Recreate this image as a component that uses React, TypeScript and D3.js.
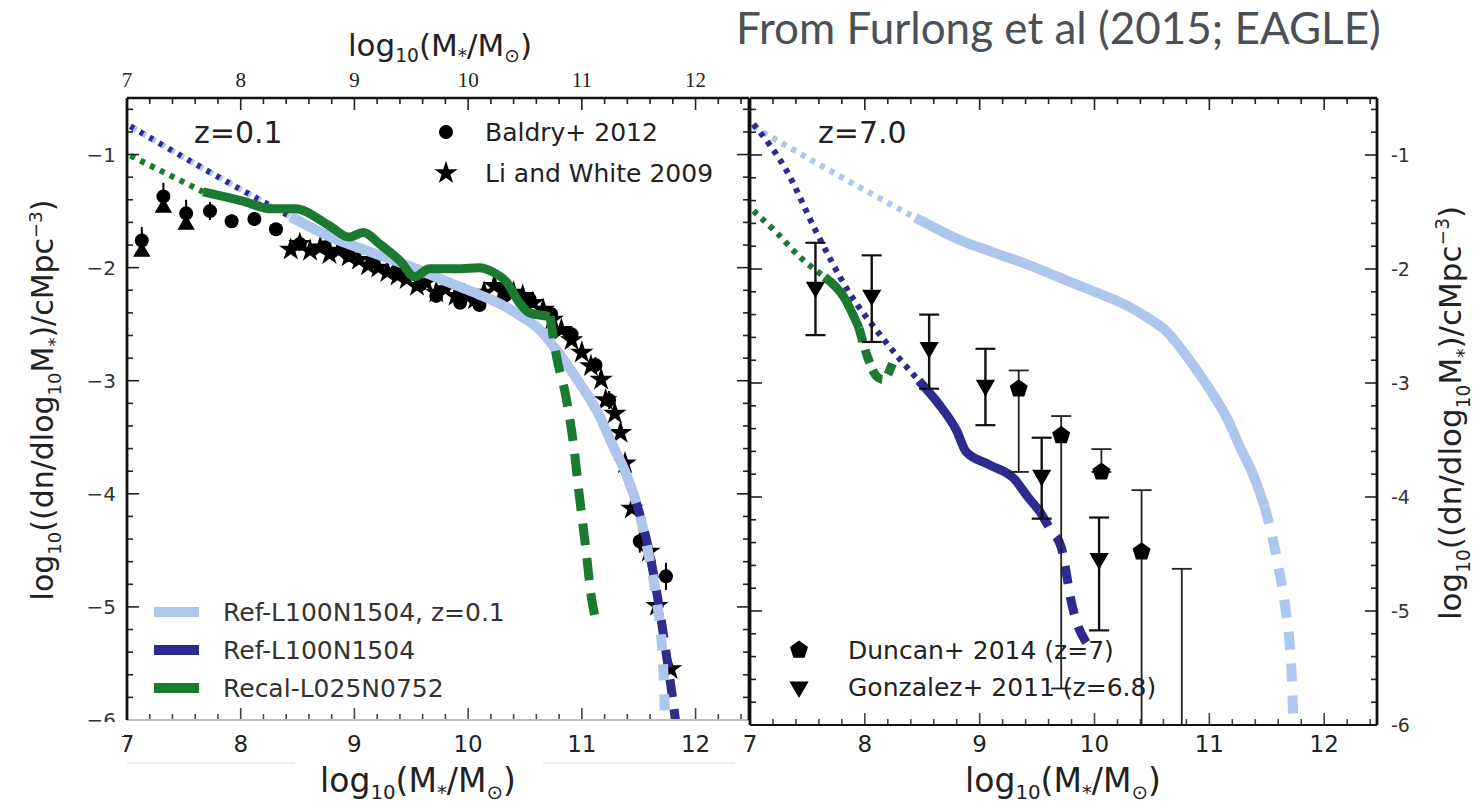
import React from 'react';
import * as d3 from 'd3';

type P = [number, number];

// ---------------- DATA ----------------
// Ref-L100N1504 at z=0.1 (light blue, repeated in both panels)
const refZ01Dotted: P[] = [[7.03, -0.75], [7.7, -1.14], [8.44, -1.55]];
const refZ01Solid: P[] = [
  [8.44, -1.55], [8.65, -1.66], [8.86, -1.76], [9.08, -1.84], [9.22, -1.89], [9.44, -1.97],
  [9.66, -2.06], [9.9, -2.16], [10.1, -2.24], [10.3, -2.33], [10.45, -2.42], [10.63, -2.55],
  [10.8, -2.76], [10.98, -3.02], [11.16, -3.32], [11.27, -3.57], [11.38, -3.8], [11.48, -4.08],
];
const refZ01Dashed: P[] = [[11.48, -4.08], [11.59, -4.55], [11.66, -4.96], [11.7, -5.3], [11.72, -5.64], [11.73, -5.95]];

// Ref-L100N1504 at z=0.1 (dark blue, left panel)
const refLeftDashed: P[] = [[11.48, -4.08], [11.6, -4.55], [11.68, -5.0], [11.74, -5.4], [11.79, -5.75], [11.83, -6.05]];

// Recal-L025N0752 at z=0.1 (green, left panel)
const recalLeftDotted: P[] = [[7.03, -1.01], [7.35, -1.17], [7.67, -1.33]];
const recalLeftSolid: P[] = [
  [7.67, -1.33], [8.01, -1.41], [8.27, -1.48], [8.48, -1.48], [8.78, -1.63], [8.95, -1.73],
  [9.08, -1.69], [9.22, -1.79], [9.4, -1.94], [9.53, -2.08], [9.66, -2.01], [9.9, -2.01],
  [10.1, -2.0], [10.22, -2.04], [10.34, -2.13], [10.45, -2.31], [10.54, -2.4], [10.72, -2.43],
];
const recalLeftDashed: P[] = [
  [10.72, -2.43], [10.78, -2.8], [10.86, -3.14], [10.93, -3.59], [10.97, -3.95], [11.04, -4.53],
  [11.08, -4.89], [11.12, -5.11],
];

// Baldry+ 2012 (circles)
const baldryX = [7.13, 7.32, 7.52, 7.73, 7.92, 8.12, 8.31, 8.52, 8.74, 8.95, 9.16, 9.37, 9.58, 9.72, 9.93, 10.1, 10.32, 10.54, 10.73, 10.91, 11.12, 11.24, 11.51, 11.74];
const baldryY = [-1.76, -1.37, -1.52, -1.5, -1.59, -1.57, -1.66, -1.79, -1.82, -1.89, -1.94, -2.03, -2.15, -2.25, -2.31, -2.33, -2.25, -2.28, -2.41, -2.59, -2.86, -3.17, -4.42, -4.73];
const baldryErr = [0.12, 0.12, 0.12, 0.08, 0.06, 0.06, 0.05, 0.05, 0.05, 0.05, 0.05, 0.05, 0.05, 0.05, 0.05, 0.05, 0.05, 0.05, 0.05, 0.06, 0.07, 0.08, 0.1, 0.12];
// lower-mass Baldry bins drawn with a triangle marker under the circle
const baldryTriX = [7.13, 7.32, 7.52];
const baldryTriY = [-1.86, -1.47, -1.62];

// Li and White 2009 (stars)
const liWhiteX = [8.44, 8.52, 8.61, 8.7, 8.78, 8.86, 8.95, 9.04, 9.12, 9.21, 9.29, 9.38, 9.46, 9.55, 9.63, 9.72, 9.8, 9.89, 9.97, 10.06, 10.14, 10.23, 10.31, 10.4, 10.48, 10.57, 10.66, 10.74, 10.82, 10.91, 11.0, 11.08, 11.17, 11.21, 11.29, 11.34, 11.38, 11.44, 11.59, 11.66, 11.78];
const liWhiteY = [-1.84, -1.79, -1.85, -1.82, -1.88, -1.85, -1.9, -1.93, -1.98, -2.0, -2.04, -2.07, -2.1, -2.16, -2.13, -2.22, -2.19, -2.25, -2.24, -2.28, -2.22, -2.16, -2.19, -2.22, -2.25, -2.31, -2.37, -2.46, -2.55, -2.64, -2.75, -2.87, -2.99, -3.17, -3.29, -3.46, -3.73, -4.13, -4.51, -4.99, -5.55];

// Ref-L100N1504 at z=7 (dark blue, right panel)
const refZ7Dotted: P[] = [[7.03, -0.73], [7.32, -1.14], [7.57, -1.66], [7.86, -2.2], [8.15, -2.6], [8.47, -2.98]];
const refZ7Solid: P[] = [[8.47, -2.98], [8.64, -3.18], [8.8, -3.42], [8.88, -3.6], [9.09, -3.72], [9.3, -3.84], [9.42, -4.0], [9.52, -4.12]];
const refZ7Dashed: P[] = [[9.52, -4.12], [9.62, -4.29], [9.71, -4.44], [9.75, -4.64], [9.79, -4.88], [9.83, -5.05], [9.93, -5.28]];

// Recal-L025N0752 at z=7 (green, right panel)
const recalZ7Dotted: P[] = [[7.03, -1.49], [7.24, -1.69], [7.44, -1.9], [7.65, -2.07]];
const recalZ7Solid: P[] = [[7.65, -2.07], [7.82, -2.25], [7.95, -2.52]];
const recalZ7Dashed: P[] = [[7.95, -2.52], [8.02, -2.76], [8.1, -2.94], [8.16, -2.97], [8.24, -2.83]];

// Duncan+ 2014 (z=7) pentagons
const duncanX = [9.34, 9.71, 10.06, 10.41, 10.76];
const duncanY = [-3.05, -3.46, -3.78, -4.48, -6.4];
const duncanHi = [-2.89, -3.29, -3.58, -3.94, -4.63];
const duncanLo = [-3.78, -5.68, -3.78, -6.3, -6.6];

// Gonzalez+ 2011 (z=6.8) down triangles
const gonzalezX = [7.57, 8.06, 8.56, 9.05, 9.54, 10.04];
const gonzalezY = [-2.16, -2.23, -2.69, -3.02, -3.81, -4.54];
const gonzalezHi = [-1.77, -1.88, -2.4, -2.7, -3.48, -4.18];
const gonzalezLo = [-2.58, -2.64, -3.05, -3.37, -4.19, -5.17];

const xTicks = [7, 8, 9, 10, 11, 12];
const yTicks = [-1, -2, -3, -4, -5, -6];

const legendLeft = ['Ref-L100N1504, z=0.1', 'Ref-L100N1504', 'Recal-L025N0752'];
const legendObsLeft = ['Baldry+  2012', 'Li and White 2009'];
const legendObsRight = ['Duncan+ 2014 (z=7)', 'Gonzalez+ 2011 (z=6.8)'];

// ---------------- STYLE ----------------
const LIGHT = '#afc6ec';
const DARK = '#2e2a8e';
const GREEN = '#1b7a2f';
const FONT = 'DejaVu Sans, sans-serif';

const xL = d3.scaleLinear().domain([7, 12.47]).range([127, 749]);
const yL = d3.scaleLinear().domain([-6, -0.5]).range([720, 98]);
const xR = d3.scaleLinear().domain([7, 12.46]).range([750, 1377]);
const yR = d3.scaleLinear().domain([-6, -0.5]).range([725, 98]);

const minorX = d3.range(7, 12.46, 0.2);
const minorY = d3.range(-6, -0.55, 0.2);

function pentagon(r: number): string {
  const pts: P[] = d3.range(5).map((i) => {
    const a = -Math.PI / 2 + (i * 2 * Math.PI) / 5;
    return [r * Math.cos(a), r * Math.sin(a)];
  });
  return (d3.line()(pts) as string) + 'Z';
}

const starPath = d3.symbol(d3.symbolStar, 170)() as string;
const triPath = d3.symbol(d3.symbolTriangle, 130)() as string;
const triPathBig = d3.symbol(d3.symbolTriangle, 160)() as string;

function Curve({ data, x, y, color, width, dash, offset }: any) {
  const gen = d3.line<P>().x((d) => x(d[0])).y((d) => y(d[1])).curve(d3.curveMonotoneX);
  return (
    <path d={gen(data) as string} fill="none" stroke={color} strokeWidth={width}
      strokeDasharray={dash} strokeDashoffset={offset || 0} strokeLinecap="butt" strokeLinejoin="round" />
  );
}

function MassLabel({ x, y, size }: { x: number; y: number; size: number }) {
  const s = size * 0.6;
  const d = size * 0.2;
  return (
    <text x={x} y={y} textAnchor="middle" fontSize={size} fontFamily={FONT} fill="#222">
      log<tspan dy={d} fontSize={s}>10</tspan>
      <tspan dy={-d}>(M</tspan>
      <tspan dy={d} fontSize={s}>*</tspan>
      <tspan dy={-d}>/M</tspan>
      <tspan dy={d} fontSize={s}>⊙</tspan>
      <tspan dy={-d}>)</tspan>
    </text>
  );
}

function YTitle({ x, y, size }: { x: number; y: number; size: number }) {
  const s = size * 0.6;
  const d = size * 0.28;
  return (
    <text transform={`translate(${x},${y}) rotate(-90)`} textAnchor="middle" fontSize={size} fontFamily={FONT} fill="#222">
      log<tspan dy={d} fontSize={s}>10</tspan>
      <tspan dy={-d}>((dn/dlog</tspan>
      <tspan dy={d} fontSize={s}>10</tspan>
      <tspan dy={-d}>M</tspan>
      <tspan dy={d} fontSize={s}>*</tspan>
      <tspan dy={-d}>)/cMpc</tspan>
      <tspan dy={-size * 0.38} fontSize={s}>−3</tspan>
      <tspan dy={size * 0.38}>)</tspan>
    </text>
  );
}

function Frame({ x, y, stroke, bottomStroke }: any) {
  const [x0, x1] = x.range();
  const [y1, y0] = y.range();
  return (
    <g>
      {minorX.map((v: number, i: number) => {
        const px = x(v);
        const major = Math.abs(v - Math.round(v)) < 1e-6;
        const len = major ? 12 : 6;
        return (
          <g key={'tx' + i}>
            <line x1={px} x2={px} y1={y0} y2={y0 + len} stroke="#222" strokeWidth={1.6} />
            <line x1={px} x2={px} y1={y1} y2={y1 - len} stroke="#444" strokeWidth={1.6} />
          </g>
        );
      })}
      {minorY.map((v: number, i: number) => {
        const py = y(v);
        const major = Math.abs(v - Math.round(v)) < 1e-6;
        const len = major ? 12 : 6;
        return (
          <g key={'ty' + i}>
            <line x1={x0} x2={x0 + len} y1={py} y2={py} stroke="#222" strokeWidth={1.6} />
            <line x1={x1} x2={x1 - len} y1={py} y2={py} stroke="#222" strokeWidth={1.6} />
          </g>
        );
      })}
      <line x1={x0} x2={x1} y1={y0} y2={y0} stroke={stroke} strokeWidth={2.6} />
      <line x1={x0} x2={x1} y1={y1} y2={y1} stroke={bottomStroke} strokeWidth={2.2} />
      <line x1={x0} x2={x0} y1={y0} y2={y1} stroke={stroke} strokeWidth={2.8} />
      <line x1={x1} x2={x1} y1={y0} y2={y1} stroke={stroke} strokeWidth={2.8} />
    </g>
  );
}

export default function App() {
  const pent = pentagon(9.5);
  return (
    <svg width={1480} height={810} style={{ display: 'block', position: 'absolute', left: 0, top: 0, background: '#fff' }}>
      <defs>
        <clipPath id="clipL"><rect x={127} y={98} width={622} height={622} /></clipPath>
        <clipPath id="clipR"><rect x={750} y={98} width={627} height={627} /></clipPath>
      </defs>
      <rect x={0} y={0} width={1480} height={810} fill="#fff" />

      {/* Title */}
      <text x={736} y={44} fontSize={44} fontFamily="Lato, 'Open Sans', sans-serif" fill="#4b5057">From Furlong et al (2015; EAGLE)</text>

      {/* ---------- LEFT PANEL ---------- */}
      <MassLabel x={440} y={56} size={31} />
      {xTicks.map((t) => (
        <text key={'tt' + t} x={xL(t)} y={87} textAnchor="middle" fontSize={21} fontFamily="'Liberation Serif', serif" fill="#222">{t}</text>
      ))}
      {xTicks.map((t) => (
        <text key={'bl' + t} x={xL(t)} y={752} textAnchor="middle" fontSize={23} fontFamily={FONT} fill="#222">{t}</text>
      ))}
      {yTicks.map((t) => (
        <text key={'yl' + t} x={116} y={yL(t) + 7} textAnchor="end" fontSize={20} fontFamily={FONT} fill="#333">{'−' + Math.abs(t)}</text>
      ))}
      <rect x={60} y={722} width={64} height={14} fill="#fff" />
      <line x1={127} x2={295} y1={763} y2={763} stroke="#ececec" strokeWidth={2} />
      <line x1={543} x2={735} y1={763} y2={763} stroke="#ececec" strokeWidth={2} />
      <MassLabel x={418} y={792} size={33} />
      <YTitle x={53} y={400} size={30} />

      <g clipPath="url(#clipL)">
        {/* observations */}
        {baldryX.map((v, i) => (
          <line key={'be' + i} x1={xL(v)} x2={xL(v)} y1={yL(baldryY[i] + baldryErr[i])} y2={yL(baldryY[i] - baldryErr[i])} stroke="#000" strokeWidth={2} />
        ))}
        {baldryTriX.map((v, i) => (
          <path key={'bt' + i} d={triPath} transform={`translate(${xL(v)},${yL(baldryTriY[i])})`} fill="#000" />
        ))}
        {baldryX.map((v, i) => (
          <circle key={'bc' + i} cx={xL(v)} cy={yL(baldryY[i])} r={7} fill="#000" />
        ))}
        {liWhiteX.map((v, i) => (
          <path key={'lw' + i} d={starPath} transform={`translate(${xL(v)},${yL(liWhiteY[i])})`} fill="#000" />
        ))}

        {/* Ref dark blue (under) */}
        <Curve data={refZ01Dotted} x={xL} y={yL} color={DARK} width={6} dash="5 6" />
        <Curve data={refZ01Solid} x={xL} y={yL} color={DARK} width={9} />
        <Curve data={refLeftDashed} x={xL} y={yL} color={DARK} width={9} dash="18 12" />
        {/* Ref z=0.1 light blue */}
        <Curve data={refZ01Dotted} x={xL} y={yL} color={LIGHT} width={6} dash="3 8" offset={7} />
        <Curve data={refZ01Solid} x={xL} y={yL} color={LIGHT} width={10} />
        <Curve data={refZ01Dashed} x={xL} y={yL} color={LIGHT} width={10} dash="16 14" offset={16} />
        {/* Recal green */}
        <Curve data={recalLeftDotted} x={xL} y={yL} color={GREEN} width={6} dash="5 6" />
        <Curve data={recalLeftSolid} x={xL} y={yL} color={GREEN} width={9} />
        <Curve data={recalLeftDashed} x={xL} y={yL} color={GREEN} width={9} dash="22 13" />
      </g>
      <Frame x={xL} y={yL} stroke="#111" bottomStroke="#bdbdbd" />

      <text x={194} y={143} fontSize={30} fontFamily={FONT} fill="#222">z=0.1</text>
      <circle cx={446} cy={132} r={7} fill="#000" />
      <path d={starPath} transform="translate(446,173)" fill="#000" />
      {legendObsLeft.map((t, i) => (
        <text key={'lo' + i} x={485} y={141 + i * 41} fontSize={25} fontFamily={FONT} fill="#222">{t}</text>
      ))}
      {legendLeft.map((t, i) => (
        <g key={'ll' + i}>
          <line x1={154} x2={199} y1={612 + i * 38} y2={612 + i * 38} stroke={[LIGHT, DARK, GREEN][i]} strokeWidth={10} />
          <text x={223} y={621 + i * 38} fontSize={25} fontFamily={FONT} fill="#333">{t}</text>
        </g>
      ))}

      {/* ---------- RIGHT PANEL ---------- */}
      {xTicks.map((t) => (
        <text key={'br' + t} x={xR(t)} y={752} textAnchor="middle" fontSize={23} fontFamily={FONT} fill="#222">{t}</text>
      ))}
      {yTicks.map((t) => (
        <text key={'yr' + t} x={1391} y={yR(t) + 7} textAnchor="start" fontSize={19} fontFamily={FONT} fill="#333">{'-' + Math.abs(t)}</text>
      ))}
      <MassLabel x={1063} y={792} size={33} />
      <YTitle x={1461} y={413} size={31} />

      <g clipPath="url(#clipR)">
        {/* Ref z=0.1 light blue */}
        <Curve data={refZ01Dotted} x={xR} y={yR} color={LIGHT} width={6} dash="5 6" />
        <Curve data={refZ01Solid} x={xR} y={yR} color={LIGHT} width={10} />
        <Curve data={refZ01Dashed} x={xR} y={yR} color={LIGHT} width={10} dash="18 14" />
        {/* Ref z=7 dark blue */}
        <Curve data={refZ7Dotted} x={xR} y={yR} color={DARK} width={6} dash="5 6" />
        <Curve data={refZ7Solid} x={xR} y={yR} color={DARK} width={9} />
        <Curve data={refZ7Dashed} x={xR} y={yR} color={DARK} width={9} dash="18 13" />
        {/* Recal z=7 green */}
        <Curve data={recalZ7Dotted} x={xR} y={yR} color={GREEN} width={6} dash="5 6" />
        <Curve data={recalZ7Solid} x={xR} y={yR} color={GREEN} width={9} />
        <Curve data={recalZ7Dashed} x={xR} y={yR} color={GREEN} width={9} dash="14 8" />

        {/* Duncan error bars + pentagons */}
        {duncanX.map((v, i) => (
          <g key={'de' + i}>
            <line x1={xR(v)} x2={xR(v)} y1={yR(duncanHi[i])} y2={yR(duncanLo[i])} stroke="#222" strokeWidth={1.8} />
            <line x1={xR(v) - 10} x2={xR(v) + 10} y1={yR(duncanHi[i])} y2={yR(duncanHi[i])} stroke="#222" strokeWidth={1.8} />
            <line x1={xR(v) - 10} x2={xR(v) + 10} y1={yR(duncanLo[i])} y2={yR(duncanLo[i])} stroke="#222" strokeWidth={1.8} />
            <path d={pent} transform={`translate(${xR(v)},${yR(duncanY[i])})`} fill="#000" />
          </g>
        ))}
        {/* Gonzalez error bars + down triangles */}
        {gonzalezX.map((v, i) => (
          <g key={'ge' + i}>
            <line x1={xR(v)} x2={xR(v)} y1={yR(gonzalezHi[i])} y2={yR(gonzalezLo[i])} stroke="#111" strokeWidth={2.4} />
            <line x1={xR(v) - 10} x2={xR(v) + 10} y1={yR(gonzalezHi[i])} y2={yR(gonzalezHi[i])} stroke="#111" strokeWidth={2.2} />
            <line x1={xR(v) - 10} x2={xR(v) + 10} y1={yR(gonzalezLo[i])} y2={yR(gonzalezLo[i])} stroke="#111" strokeWidth={2.2} />
            <path d={triPathBig} transform={`translate(${xR(v)},${yR(gonzalezY[i])}) rotate(180)`} fill="#000" />
          </g>
        ))}
      </g>
      <Frame x={xR} y={yR} stroke="#111" bottomStroke="#111" />

      <text x={818} y={143} fontSize={30} fontFamily={FONT} fill="#222">z=7.0</text>
      <path d={pent} transform="translate(799,650)" fill="#000" />
      <path d={triPathBig} transform="translate(799,687) rotate(180)" fill="#000" />
      {legendObsRight.map((t, i) => (
        <text key={'lr' + i} x={848} y={659 + i * 37} fontSize={25} fontFamily={FONT} fill="#222">{t}</text>
      ))}
    </svg>
  );
}
